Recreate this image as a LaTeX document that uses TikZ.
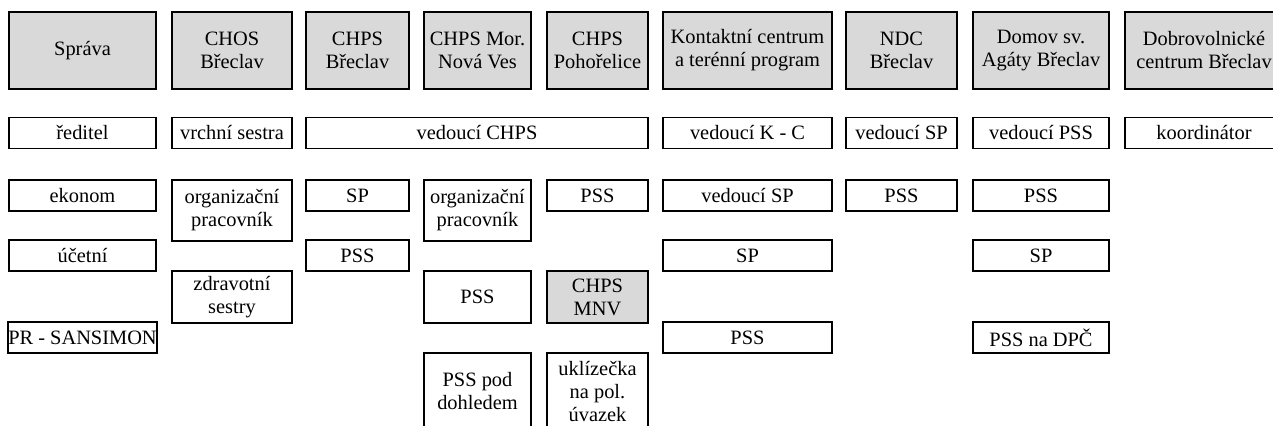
\documentclass[tikz,border=0pt]{standalone}
\usepackage{fontspec}
\setmainfont{Liberation Serif}
\usepackage{tikz}

\begin{document}
\begin{tikzpicture}[x=0.5pt, y=-0.5pt,
    unit/.style={draw, line width=0.8pt, fill=black!15, inner sep=0pt, %
        align=center, font=\fontsize{10.2}{11.5}\selectfont},
    post/.style={draw, line width=0.8pt, fill=white, inner sep=0pt, %
        align=center, font=\fontsize{10.2}{11.5}\selectfont},
    % column widths
    wa/.style={minimum width=73.5pt}, wb/.style={minimum width=60pt},
    wc/.style={minimum width=51.5pt}, wd/.style={minimum width=53.5pt},
    we/.style={minimum width=50.5pt}, wf/.style={minimum width=84.5pt},
    wg/.style={minimum width=55.5pt}, wh/.style={minimum width=68pt},
    wi/.style={minimum width=79pt},
    % row heights
    hhead/.style={minimum height=38.5pt}, hone/.style={minimum height=15.5pt},
    htwo/.style={minimum height=30.5pt}, hmid/.style={minimum height=26pt}]
    \useasboundingbox (0,0) rectangle (1273,426);
    \clip (0,0) rectangle (1273,426);
    % units
    \node[unit, wa, hhead] (sprava)  at (82.5,50.5)  {Správa};
    \node[unit, wb, hhead] (chos)    at (232,50.5)   {CHOS\\Břeclav};
    \node[unit, wc, hhead] (chpsb)   at (357.5,50.5) {CHPS\\Břeclav};
    \node[unit, wd, hhead] (chpsmnv) at (477.5,50.5) {CHPS Mor.\\Nová Ves};
    \node[unit, we, hhead] (chpsp)   at (597.5,50.5) {CHPS\\Pohořelice};
    \node[unit, wf, hhead] (kc)      at (747.5,50.5) {Kontaktní centrum\\a terénní program};
    \node[unit, wg, hhead] (ndc)     at (901.5,50.5) {NDC\\Břeclav};
    \node[unit, wh, hhead] (domov)   at (1041,50.5)  {Domov sv.\\Agáty Břeclav};
    \node[unit, wi, hhead] (dobro)   at (1204,50.5)  {Dobrovolnické\\centrum Břeclav};
    % heads
    \node[post, wa, hone] (reditel) at (82.5,133)  {ředitel};
    \node[post, wb, hone] (vrchni)  at (232,133)   {vrchní sestra};
    \node[post, minimum width=171pt, hone] (vedchps) at (477,133) {vedoucí CHPS};
    \node[post, wf, hone] (vedkc)   at (747.5,133) {vedoucí K - C};
    \node[post, wg, hone] (vedsp)   at (901.5,133) {vedoucí SP};
    \node[post, wh, hone] (vedpss)  at (1041,133)  {vedoucí PSS};
    \node[post, wi, hone] (koord)   at (1204,133)  {koordinátor};
    % staff
    \node[post, wa, hone] (ekonom)   at (82.5,195.5)  {ekonom};
    \node[post, wb, htwo] (orgchos)  at (232,210.5)   {organizační\\pracovník};
    \node[post, wc, hone] (spchpsb)  at (357.5,195.5) {SP};
    \node[post, wd, htwo] (orgmnv)   at (477.5,210.5) {organizační\\pracovník};
    \node[post, we, hone] (psspoh)   at (597.5,195.5) {PSS};
    \node[post, wf, hone] (vedspkc)  at (747.5,195.5) {vedoucí SP};
    \node[post, wg, hone] (pssndc)   at (901.5,195.5) {PSS};
    \node[post, wh, hone] (pssdomov) at (1041,195.5)  {PSS};
    \node[post, wa, hone] (ucetni)   at (82.5,255.5)  {účetní};
    \node[post, wc, hone] (psschpsb) at (357.5,255.5) {PSS};
    \node[post, wf, hone] (spkc)     at (747.5,255.5) {SP};
    \node[post, wh, hone] (spdomov)  at (1041,255.5)  {SP};
    \node[post, wb, hmid] (zdrav)    at (232,297)     {zdravotní\\sestry};
    \node[post, wd, hmid] (pssmnv)   at (477.5,297)   {PSS};
    \node[unit, we, hmid] (mnv)      at (597.5,297)   {CHPS\\MNV};
    \node[post, wa, hone] (sansimon) at (82.5,337.5)  {PR - SANSIMON};
    \node[post, wf, hone] (psskc)    at (747.5,337.5) {PSS};
    \node[post, wh, hone] (dpc)      at (1041,337.5)  {PSS na DPČ};
    \node[post, wd, hhead] (dohled)  at (477.5,391.5) {PSS pod\\dohledem};
    \node[post, we, hhead] (uklid)   at (597.5,391.5) {uklízečka\\na pol.\\úvazek};
\end{tikzpicture}
\end{document}
